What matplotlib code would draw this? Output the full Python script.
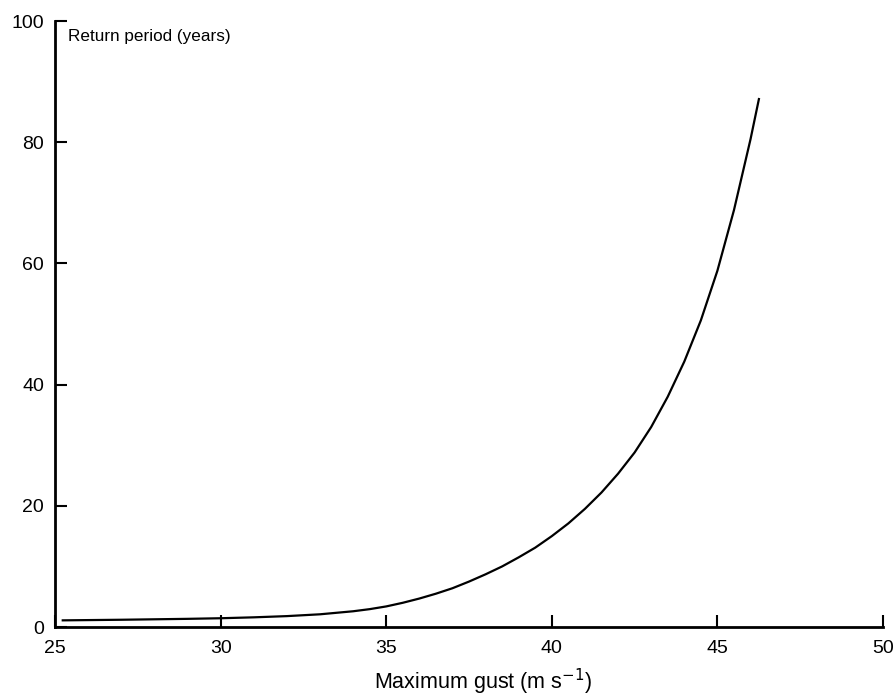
import numpy as np
import matplotlib.pyplot as plt

# values
gust = [25.2, 27, 29, 30, 31, 32, 33, 34, 34.5, 35, 35.5, 36, 36.5, 37, 37.5, 38, 38.5,
        39, 39.5, 40, 40.5, 41, 41.5, 42, 42.5, 43, 43.5, 44, 44.5, 45, 45.5,
        46, 46.26]
period = [1.1, 1.2, 1.35, 1.45, 1.6, 1.8, 2.1, 2.6, 2.95, 3.4, 4.0, 4.7, 5.5, 6.4, 7.5, 8.7, 10.0,
          11.5, 13.1, 15.0, 17.1, 19.5, 22.2, 25.3, 28.8, 33.0, 38.0, 43.8, 50.6, 58.8, 68.8,
          80.5, 87.3]

xticks = [25, 30, 35, 40, 45, 50]
yticks = [0, 20, 40, 60, 80, 100]

plt.rcParams['font.family'] = ['Liberation Sans', 'DejaVu Sans']

fig = plt.figure(figsize=(8.96, 6.96), dpi=100)
ax = fig.add_axes([0.0614, 0.0991, 0.9241, 0.8707])

ax.plot(gust, period, color='black', lw=1.6, solid_capstyle='butt', solid_joinstyle='round')

ax.set_xlim(25, 50)
ax.set_ylim(0, 100)
ax.set_xticks(xticks)
ax.set_yticks(yticks)
ax.tick_params(direction='in', length=8.5, width=1.5, labelsize=14, color='black')
ax.tick_params(axis='x', pad=9)
ax.tick_params(axis='y', pad=8)

for s in ['top', 'right']:
    ax.spines[s].set_visible(False)
for s in ['left', 'bottom']:
    ax.spines[s].set_linewidth(2)

ax.text(25.38, 97.4, 'Return period (years)', fontsize=12.3, ha='left', va='center')
ax.set_xlabel('Maximum gust (m s$^{-1}$)', fontsize=15.5)
ax.xaxis.set_label_coords(0.517, -0.091)
ax.xaxis.label.set_va('center')

fig.savefig('out.png', dpi=100)
